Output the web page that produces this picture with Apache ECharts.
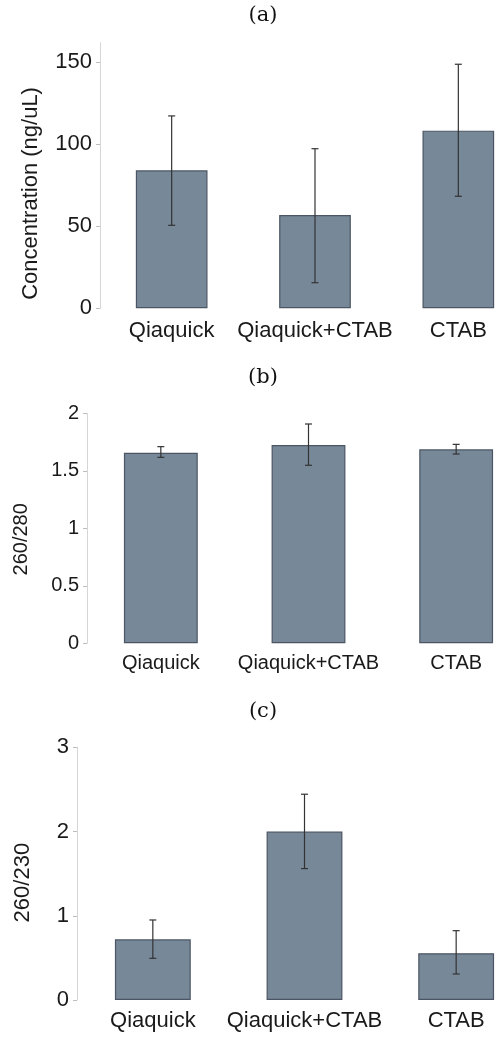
<!DOCTYPE html>
<html>
<head>
<meta charset="utf-8">
<script src="https://cdn.jsdelivr.net/npm/echarts@6/dist/echarts.min.js"></script>
<style>html,body{margin:0;padding:0;background:#fff;}#c{width:496px;height:1038px;}</style>
</head>
<body>
<div id="c"></div>
<script>
const categories = ['Qiaquick', 'Qiaquick+CTAB', 'CTAB'];

// (a) Concentration
const concMean = [84.1, 56.9, 108.3];
const concLow = [50.6, 15.6, 68.3];
const concHigh = [117.3, 97.3, 148.8];
const concTicks = [0, 50, 100, 150];

// (b) 260/280
const r280Mean = [1.657, 1.724, 1.687];
const r280Low = [1.617, 1.548, 1.646];
const r280High = [1.71, 1.907, 1.73];
const r280Ticks = [0, 0.5, 1, 1.5, 2];

// (c) 260/230
const r230Mean = [0.72, 2.0, 0.555];
const r230Low = [0.495, 1.56, 0.309];
const r230High = [0.95, 2.443, 0.823];
const r230Ticks = [0, 1, 2, 3];

const panelTitles = ['(a)', '(b)', '(c)'];
const yNames = ['Concentration (ng/uL)', '260/280', '260/230'];

const FONT = '"Liberation Sans", Arial, sans-serif';
const grids = [
  {left: 100, top: 42.6, width: 430, height: 265.7, outerBoundsMode: 'none', containLabel: false},
  {left: 87, top: 413.3, width: 443, height: 230, outerBoundsMode: 'none', containLabel: false},
  {left: 77, top: 747.3, width: 455, height: 252.7, outerBoundsMode: 'none', containLabel: false}
];
const yMax = [162, 2, 3];
const ticksList = [concTicks, r280Ticks, r230Ticks];
const fontSizes = [22, 20, 22];
const nameGaps = [58, 56, 43];
const namePads = [36, 22, 18];
const labelMargins = [12, 10, 10];
const means = [concMean, r280Mean, r230Mean];
const lows = [concLow, r280Low, r230Low];
const highs = [concHigh, r280High, r230High];
const titleY = [16, 378, 712];

const xAxes = [], yAxes = [], series = [];
for (let i = 0; i < 3; i++) {
  xAxes.push({
    type: 'category', gridIndex: i, data: categories,
    axisLine: {show: false}, axisTick: {show: false},
    axisLabel: {fontFamily: FONT, fontSize: fontSizes[i], color: '#1a1a1a', margin: labelMargins[i], interval: 0}
  });
  yAxes.push({
    type: 'value', gridIndex: i, min: 0, max: yMax[i],
    name: yNames[i], nameLocation: 'middle', nameRotate: 90, nameGap: nameGaps[i],
    nameTextStyle: {fontFamily: FONT, fontSize: fontSizes[i], color: '#1a1a1a', padding: [0, namePads[i], 0, 0]},
    axisLine: {show: true, lineStyle: {color: '#d6d6d6', width: 1}},
    axisTick: {show: true, length: 4, lineStyle: {color: '#bdbdbd'}, customValues: ticksList[i]},
    axisLabel: {fontFamily: FONT, fontSize: fontSizes[i], color: '#1a1a1a', margin: 8, customValues: ticksList[i]},
    splitLine: {show: false}
  });
  series.push({
    type: 'bar', xAxisIndex: i, yAxisIndex: i, data: means[i], barWidth: '50%',
    itemStyle: {color: '#778899', borderColor: '#4b5563', borderWidth: 1.2},
    silent: true
  });
  const lo = lows[i], hi = highs[i];
  series.push({
    type: 'custom', xAxisIndex: i, yAxisIndex: i,
    data: categories.map((c, k) => [k, lo[k], hi[k]]),
    renderItem: function (params, api) {
      const x = api.value(0);
      const p1 = api.coord([x, api.value(1)]);
      const p2 = api.coord([x, api.value(2)]);
      const w = 3.5;
      const st = {stroke: '#333', lineWidth: 1.2};
      return {type: 'group', children: [
        {type: 'line', shape: {x1: p1[0], y1: p1[1], x2: p2[0], y2: p2[1]}, style: st},
        {type: 'line', shape: {x1: p1[0] - w, y1: p1[1], x2: p1[0] + w, y2: p1[1]}, style: st},
        {type: 'line', shape: {x1: p2[0] - w, y1: p2[1], x2: p2[0] + w, y2: p2[1]}, style: st}
      ]};
    },
    z: 10, silent: true
  });
}

const chart = echarts.init(document.getElementById('c'), null, {renderer: 'canvas'});
chart.setOption({
  animation: false,
  grid: grids,
  xAxis: xAxes,
  yAxis: yAxes,
  series: series,
  graphic: panelTitles.map((t, i) => ({
    type: 'text', x: 263, y: titleY[i],
    style: {text: t, fontFamily: '"DejaVu Serif", "Liberation Serif", serif', fontSize: 21, fill: '#111', textAlign: 'center', textVerticalAlign: 'middle'}
  }))
});
</script>
</body>
</html>
